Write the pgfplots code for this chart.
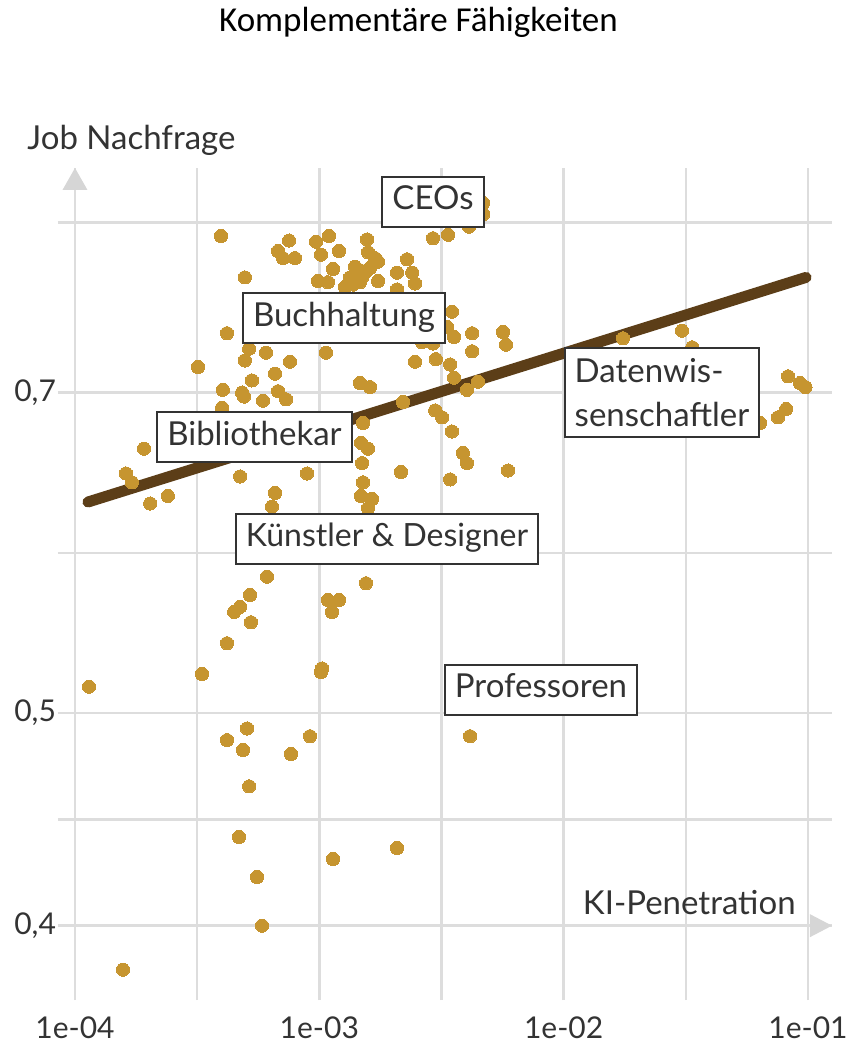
\documentclass[border=0pt]{standalone}
\usepackage{pgfplots}
\pgfplotsset{compat=1.18}
\usepackage{fontspec}
\setmainfont{Lato}
\newfontfamily\titlefont{Carlito}
\definecolor{gridcol}{RGB}{221,221,221}
\definecolor{arrowcol}{RGB}{214,214,214}
\definecolor{dotgold}{RGB}{198,149,48}
\definecolor{trendbrown}{RGB}{92,62,24}
\definecolor{labelcol}{RGB}{51,51,51}

\pgfplotstableread{
x y
3.96e-4 0.825
4.96e-4 0.790
6.78e-4 0.812
7.52e-4 0.821
7.10e-4 0.806
7.95e-4 0.806
9.69e-4 0.820
1.096e-3 0.825
1.016e-3 0.809
1.138e-3 0.797
9.88e-4 0.787
1.085e-3 0.786
1.204e-3 0.812
1.568e-3 0.822
1.583e-3 0.811
1.69e-3 0.806
1.74e-3 0.803
2.286e-3 0.805
1.40e-3 0.799
1.468e-3 0.796
1.54e-3 0.794
1.613e-3 0.798
2.40e-3 0.794
2.08e-3 0.794
1.336e-3 0.790
1.496e-3 0.790
1.374e-3 0.784
1.468e-3 0.786
1.74e-3 0.787
2.465e-3 0.785
1.274e-3 0.782
2.08e-3 0.780
2.92e-3 0.823
3.365e-3 0.826
4.10e-3 0.833
4.68e-3 0.854
4.68e-3 0.844
4.19e-4 0.745
5.16e-4 0.733
4.96e-4 0.724
6.05e-4 0.730
7.59e-4 0.723
1.065e-3 0.730
3.19e-4 0.719
5.30e-4 0.709
6.59e-4 0.714
4.03e-4 0.702
4.83e-4 0.700
4.92e-4 0.697
5.88e-4 0.694
6.78e-4 0.701
7.31e-4 0.695
4.00e-4 0.689
3.49e-3 0.762
3.33e-3 0.750
3.56e-3 0.742
4.22e-3 0.745
4.22e-3 0.731
5.65e-3 0.746
5.81e-3 0.736
2.63e-3 0.738
2.92e-3 0.737
2.465e-3 0.723
3.00e-3 0.725
3.43e-3 0.721
3.56e-3 0.711
4.02e-3 0.702
4.46e-3 0.708
1.468e-3 0.707
1.613e-3 0.704
2.20e-3 0.693
1.51e-3 0.678
2.98e-3 0.687
3.18e-3 0.682
3.49e-3 0.672
1.482e-3 0.664
1.583e-3 0.660
1.496e-3 0.650
3.87e-3 0.657
4.02e-3 0.650
2.16e-3 0.644
5.92e-3 0.645
3.43e-3 0.639
1.51e-3 0.637
1.482e-3 0.628
1.643e-3 0.626
1.583e-3 0.620
1.917e-4 0.660
1.617e-4 0.643
1.71e-4 0.637
2.03e-4 0.623
2.40e-4 0.628
4.74e-4 0.641
8.91e-4 0.643
6.59e-4 0.630
6.40e-4 0.621
1.75e-2 0.741
3.05e-2 0.747
3.36e-2 0.734
8.29e-2 0.712
9.29e-2 0.707
9.77e-2 0.704
8.14e-2 0.688
7.54e-2 0.682
6.36e-2 0.678
6.11e-4 0.577
1.553e-3 0.573
5.20e-4 0.566
4.74e-4 0.559
4.48e-4 0.556
5.25e-4 0.550
1.085e-3 0.563
1.204e-3 0.563
1.127e-3 0.556
4.19e-4 0.538
3.31e-4 0.521
1.141e-4 0.514
1.026e-3 0.524
1.016e-3 0.522
5.06e-4 0.492
4.19e-4 0.486
4.87e-4 0.481
9.16e-4 0.488
7.66e-4 0.479
4.14e-3 0.488
5.16e-4 0.463
4.69e-4 0.439
1.138e-3 0.429
2.08e-3 0.434
5.56e-4 0.421
5.83e-4 0.400
1.572e-4 0.382
}\jobdata

\begin{document}
\begin{tikzpicture}[x=1pt,y=1pt]
\useasboundingbox (0,0) rectangle (423,525.5);
\begin{axis}[
    at={(29pt,25.5pt)}, anchor=south west,
    scale only axis,
    width=387pt, height=416pt,
    xmode=log, ymode=log,
    xmin=8.52e-5, xmax=0.1254,
    ymin=0.370, ymax=0.886,
    axis line style={draw=none},
    major tick length=0pt, minor tick length=0pt,
    xtick={1e-4,1e-3,1e-2,1e-1},
    xticklabels={1e-04,1e-03,1e-02,1e-01},
    minor xtick={3.1623e-4,3.1623e-3,3.1623e-2},
    ytick={0.4,0.5,0.7},
    yticklabels={{0,4},{0,5},{0,7}},
    minor ytick={0.44721,0.59161,0.83666},
    grid=both,
    major grid style={draw=gridcol, line width=1.3pt},
    minor grid style={draw=gridcol, line width=1.3pt},
    tick label style={font=\fontsize{15}{18}\selectfont, text=labelcol},
    xticklabel style={yshift=-5pt},
    yticklabel style={xshift=2.5pt},
    clip=false,
]
% axis arrow heads
\fill[arrowcol] (axis cs:1e-4,0.886) -- ([xshift=-6.25pt,yshift=-11pt]axis cs:1e-4,0.886)
    -- ([xshift=6.25pt,yshift=-11pt]axis cs:1e-4,0.886) -- cycle;
\fill[arrowcol] (axis cs:0.1254,0.4) -- ([xshift=-11pt,yshift=5.75pt]axis cs:0.1254,0.4)
    -- ([xshift=-11pt,yshift=-5.75pt]axis cs:0.1254,0.4) -- cycle;

% trend line
\addplot[trendbrown, line width=5.5pt, line cap=round] coordinates {(1.13e-4,0.624) (0.0982,0.790)};

\addplot[dotgold, only marks, mark=*, mark size=3.3pt,
    mark options={draw=dotgold, fill=dotgold, line width=0pt}] table[x=x, y=y] {\jobdata};
\end{axis}

% titles
\node[anchor=base, inner sep=0pt, font=\titlefont\fontsize{17.5}{21}\selectfont] at (209.25,509.5) {Komplementäre Fähigkeiten};
\node[anchor=base west, inner sep=0pt, text=labelcol, font=\fontsize{16.5}{20}\selectfont] at (13.5,450.5) {Job Nachfrage};
\node[anchor=base east, inner sep=0pt, text=labelcol, font=\fontsize{16.5}{20}\selectfont] at (398,68.25) {KI-Penetration};

% label boxes
\tikzset{lbl/.style={draw=labelcol, line width=1pt, fill=white, text=labelcol,
    font=\fontsize{16.5}{22}\selectfont, inner xsep=5pt, inner ysep=5pt,
    text height=11.5pt, text depth=3.5pt}}
\node[lbl] at (216.5,424.5) {CEOs};
\node[lbl] at (172,366.25) {Buchhaltung};
\node[lbl] at (127.25,306.75) {Bibliothekar};
\node[lbl, font=\fontsize{16}{22}\selectfont] at (193.5,256) {Künstler \& Designer};
\node[lbl] at (270.5,180.5) {Professoren};
\node[draw=labelcol, line width=1pt, fill=white, text=labelcol, align=left,
    font=\fontsize{16.5}{22}\selectfont, inner xsep=5pt, inner ysep=5pt] at (331,329.25) {Datenwis-\\senschaftler};
\end{tikzpicture}
\end{document}
